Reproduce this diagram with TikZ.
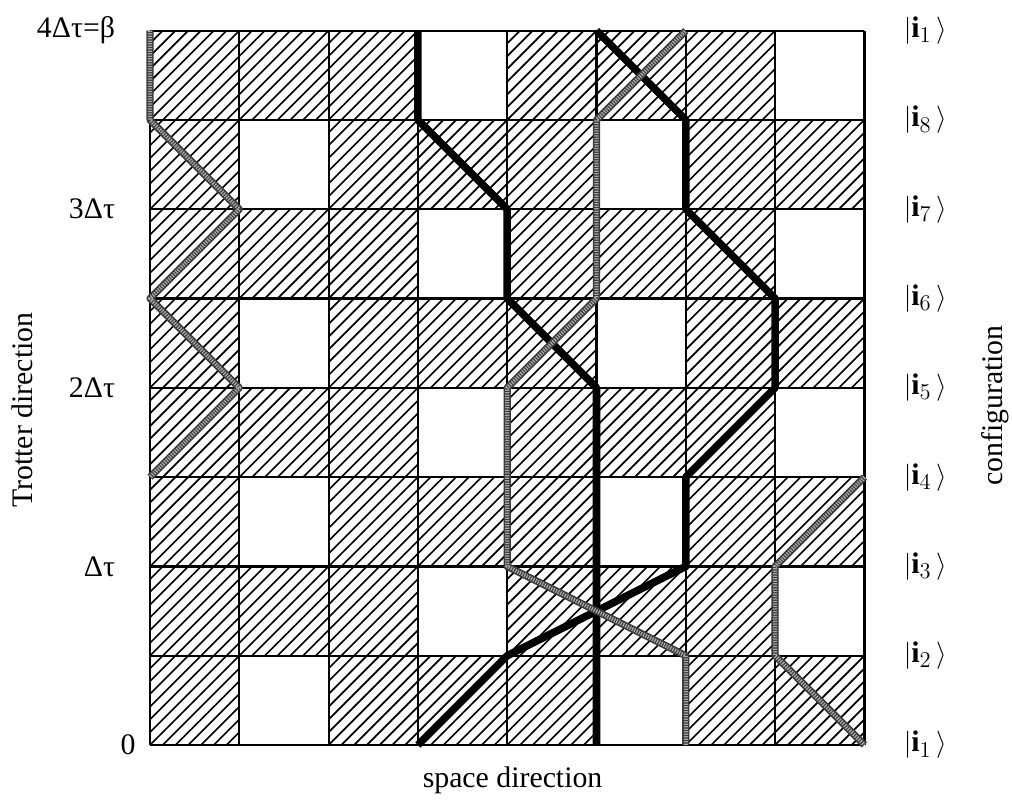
\documentclass[tikz,border=0pt]{standalone}
\usepackage{fontspec}
\setmainfont{Liberation Serif}
\usepackage{tikz}
\usetikzlibrary{positioning}
\definecolor{DotGray}{HTML}{3A3A3A}
\definecolor{DotLight}{HTML}{A8A8A8}

\begin{document}
\begin{tikzpicture}[x=2cm,y=2cm,font=\fontsize{19}{22}\selectfont,
  hatchline/.style={line width=1.05pt},
  gridline/.style={line width=1.4pt},
  spinup/.style={line width=4.8pt,line join=round},
  spindn/.style={line width=4.6pt,draw=DotGray,line join=round,
    postaction={draw=DotLight,line width=2.6pt,dash pattern=on 0.8pt off 0.8pt}},
  ket/.style={anchor=west,font=\fontsize{19}{22}\selectfont}]
\useasboundingbox (-1.68,-0.616) rectangle (9.653,8.343);
\foreach \x in {0,...,8} {
  \foreach \y in {0,...,8} {
    \coordinate (p\x\y) at (\x,\y);
  }
}
\begin{scope}
  \clip (p00) rectangle (p88);
  \foreach \k in {-58,...,58} {
    \draw[hatchline] (\k/7,0) -- ++(8,8);
  }
\end{scope}
\foreach \r in {0,2,4,6} {
  \foreach \c in {1,5} {
    \fill[white] (\c,\r) rectangle ++(1,1);
    \fill[white] (\c+2,\r+1) rectangle ++(1,1);
  }
}
\foreach \i in {0,...,8} {
  \draw[gridline] (p\i0) -- (p\i8);
  \draw[gridline] (p0\i) -- (p8\i);
}
% world lines
\draw[spinup] (p30) -- (p41) -- (p62) -- (p63) -- (p74) -- (p75) -- (p66) -- (p67) -- (p58);
\draw[spinup] (p50) -- (p54) -- (p45) -- (p46) -- (p37) -- (p38);
\draw[spindn] (p60) -- (p61) -- (p42) -- (p44) -- (p55) -- (p57) -- (p68);
\draw[spindn] (p08) -- (p07) -- (p16) -- (p05) -- (p14) -- (p03);
\draw[spindn] (p83) -- (p72) -- (p71) -- (p80);
\foreach \y/\lbl in {8/{4Δτ=β},6/{3Δτ},4/{2Δτ},2/{Δτ}} {
  \node[anchor=east] (t\y) at (-0.33,\y) {\lbl};
}
\node[anchor=east] (t0) at (-0.1,0) {0};
\foreach \y/\k in {8/1,7/8,6/7,5/6,4/5,3/4,2/3,1/2,0/1} {
  \node[ket] (k\y) at (8.38,\y) {$|\mathbf{i}_{\k}\,\rangle$};
}
\node[rotate=90] (trotter) at (-1.43,3.75) {Trotter direction};
\node[rotate=90] (config) at (9.46,3.8) {configuration};
\node (space) at (4.06,-0.40) {space direction};
\end{tikzpicture}
\end{document}
